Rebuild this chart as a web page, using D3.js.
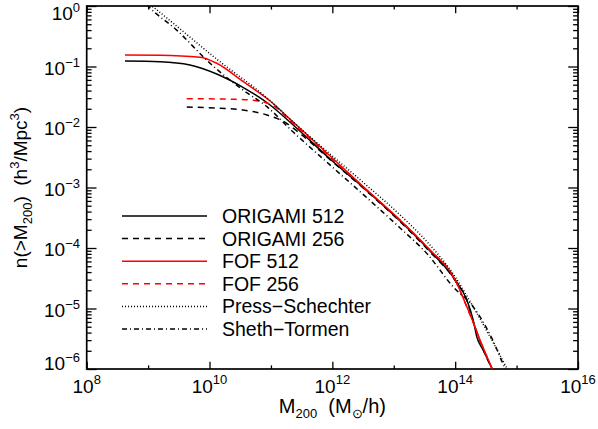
<!DOCTYPE html>
<html>
<head>
<meta charset="utf-8">
<script src="https://cdn.jsdelivr.net/npm/d3@7"></script>
<style>
  body { margin: 0; background: #fff; }
  svg text { font-family: "Liberation Sans", Arial, sans-serif; fill: #000; }
</style>
</head>
<body>
<div class="mass-function"></div>
<script>
// ---- values
var xTickExp = [8, 10, 12, 14, 16];
var xMinorExp = [9, 11, 13, 15];
var yTickExp = [0, -1, -2, -3, -4, -5, -6];
var legendLabels = ["ORIGAMI 512", "ORIGAMI 256", "FOF 512", "FOF 256", "Press\u2212Schechter", "Sheth\u2212Tormen"];

var origami512Mass = [4.2e8, 1.56e9, 4.8e9, 1.31e10, 3.5e10, 9.7e10, 2.21e11, 1e12, 3.41e12, 1.27e13, 3.62e13, 1e14, 1.55e14, 1.96e14, 2.25e14, 2.85e14, 3.95e14, 4.5e14];
var origami512N    = [0.123, 0.120, 0.106, 0.0752, 0.0453, 0.0231, 0.0112, 2.74e-3, 9.4e-4, 2.79e-4, 9.6e-5, 2.96e-5, 1.38e-5, 6.5e-6, 3.4e-6, 2.06e-6, 1.04e-6, 8e-7];

var origami256Mass = [4.26e9, 1.48e10, 3.5e10, 8.6e10, 1.81e11, 2.98e11, 1e12, 3.41e12, 1.27e13, 3.62e13, 1e14, 1.55e14, 1.9e14, 2.35e14, 2.95e14, 4.0e14, 4.6e14];
var origami256N    = [0.0214, 0.0204, 0.0191, 0.0158, 0.0115, 7.8e-3, 2.68e-3, 9.2e-4, 2.72e-4, 9.3e-5, 2.9e-5, 1.35e-5, 6.8e-6, 3.6e-6, 1.95e-6, 1.0e-6, 7.5e-7];

var fof512Mass = [4.2e8, 1.58e9, 7.0e9, 1.31e10, 3.55e10, 9.7e10, 2.21e11, 1e12, 3.41e12, 1.27e13, 3.62e13, 1e14, 1.55e14, 1.98e14, 2.54e14, 3.95e14, 4.5e14];
var fof512N    = [0.155, 0.154, 0.142, 0.113, 0.0561, 0.0269, 0.01256, 3.07e-3, 9.7e-4, 2.9e-4, 1.0e-4, 2.96e-5, 1.07e-5, 5.8e-6, 3.0e-6, 1.04e-6, 7.5e-7];

var fof256Mass = [4.26e9, 2.42e10, 4.57e10, 8.6e10, 1.1e11, 2.21e11, 1e12, 3.41e12, 1.27e13, 3.62e13, 1e14, 1.55e14, 2.0e14, 2.57e14, 4.0e14, 4.6e14];
var fof256N    = [0.0294, 0.0287, 0.0279, 0.0249, 0.0224, 0.0118, 2.95e-3, 9.6e-4, 2.85e-4, 9.9e-5, 2.93e-5, 1.05e-5, 5.6e-6, 2.9e-6, 1.0e-6, 7.5e-7];

var pressSchechterMass = [6.3e8, 1.15e9, 1.48e10, 8.6e10, 2.21e11, 1e12, 3.41e12, 1.27e13, 3.62e13, 1e14, 1.55e14, 2.25e14, 3.7e14, 6.9e14, 7.9e14];
var pressSchechterN    = [1.6, 1.0, 0.120, 0.0303, 0.01256, 3.32e-3, 1.14e-3, 3.51e-4, 1.21e-4, 3.32e-5, 1.61e-5, 8.4e-6, 3.4e-6, 1.04e-6, 8e-7];

var shethTormenMass = [7.1e8, 1.0e9, 2.92e9, 1.02e10, 3.5e10, 8.6e10, 2.21e11, 1e12, 3.41e12, 1.27e13, 3.62e13, 9.2e13, 1.96e14, 4.1e14, 6.5e14, 7.6e14];
var shethTormenN    = [1.5, 1.0, 0.40, 0.113, 0.0409, 0.0217, 8.6e-3, 2.18e-3, 7.2e-4, 2.14e-4, 7.7e-5, 2.3e-5, 1.07e-5, 3.0e-6, 1.04e-6, 8e-7];

// line styles, same order as the legend
var seriesColor = ["#000", "#000", "#ff0000", "#ff0000", "#000", "#000"];
var seriesDash  = [null, "6,5", null, "6,5", "1,2", "5,3,1,3"];

var seriesData = [
  d3.zip(origami512Mass, origami512N),
  d3.zip(origami256Mass, origami256N),
  d3.zip(fof512Mass, fof512N),
  d3.zip(fof256Mass, fof256N),
  d3.zip(pressSchechterMass, pressSchechterN),
  d3.zip(shethTormenMass, shethTormenN)
];

// ---- frame
var margin = {top: 6, right: 20, bottom: 60, left: 86.7},
    width = 598 - margin.left - margin.right,
    height = 429 - margin.top - margin.bottom;

var svg = d3.select(".mass-function")
  .append("svg")
    .attr("width", 598)
    .attr("height", 429)
  .append("g")
    .attr("transform", "translate(" + margin.left + "," + margin.top + ")");

var x = d3.scaleLog().domain([1e8, 1e16]).range([0, width]);
var y = d3.scaleLog().domain([1e-6, 1]).range([height, 0]);

var xMajor = xTickExp.map(function(e) { return Math.pow(10, e); });
var xMinor = xMinorExp.map(function(e) { return Math.pow(10, e); });
var yMajor = yTickExp.map(function(e) { return Math.pow(10, e); });
var yMinor = [];
yTickExp.slice(1).forEach(function(e) {
  for (var k = 2; k <= 9; k++) yMinor.push(k * Math.pow(10, e));
});

// ---- ticks on all four sides, pointing in
function ticks(axis, values, size, tx, ty) {
  var g = svg.append("g")
    .attr("transform", "translate(" + tx + "," + ty + ")")
    .call(axis.tickValues(values).tickSize(-size).tickSizeOuter(0).tickFormat(""));
  g.select(".domain").remove();
  g.selectAll("line").attr("stroke", "#000").attr("stroke-width", 1.3);
}
ticks(d3.axisBottom(x), xMajor, 7.3, 0, height);
ticks(d3.axisBottom(x), xMinor, 3.6, 0, height);
ticks(d3.axisTop(x), xMajor, 7.3, 0, 0);
ticks(d3.axisTop(x), xMinor, 3.6, 0, 0);
ticks(d3.axisLeft(y), yMajor, 9.8, 0, 0);
ticks(d3.axisLeft(y), yMinor, 4.9, 0, 0);
ticks(d3.axisRight(y), yMajor, 9.8, width, 0);
ticks(d3.axisRight(y), yMinor, 4.9, width, 0);

svg.append("rect")
  .attr("width", width)
  .attr("height", height)
  .attr("fill", "none")
  .attr("stroke", "#000")
  .attr("stroke-width", 1.7);

// ---- tick labels, 10 with exponent
svg.selectAll(".xlab")
  .data(xTickExp)
  .enter()
  .append("text")
    .attr("class", "xlab")
    .attr("x", function(d) { return x(Math.pow(10, d)); })
    .attr("y", height + 24)
    .attr("text-anchor", "middle")
    .style("font-size", "19px")
    .each(function(d) {
      var t = d3.select(this);
      t.append("tspan").text("10");
      t.append("tspan").attr("dy", -9).style("font-size", "13px").text(d);
    });

svg.selectAll(".ylab")
  .data(yTickExp)
  .enter()
  .append("text")
    .attr("class", "ylab")
    .attr("x", -6.7)
    .attr("y", function(d) { return Math.max(14, Math.min(height + 1, y(Math.pow(10, d)) + 8)); })
    .attr("text-anchor", "end")
    .style("font-size", "19px")
    .each(function(d) {
      var t = d3.select(this);
      t.append("tspan").text("10");
      t.append("tspan").attr("dy", -8).style("font-size", "13px")
        .text(d < 0 ? "\u2212" + (-d) : d);
    });

// ---- axis titles
var xt = svg.append("text")
  .attr("x", width / 2)
  .attr("y", height + 44)
  .attr("text-anchor", "middle")
  .style("font-size", "20px")
  .style("white-space", "pre");
xt.append("tspan").text("M");
xt.append("tspan").attr("dy", 5).style("font-size", "13px").text("200");
xt.append("tspan").attr("dy", -5).text("  (M");
xt.append("tspan").attr("dy", 5).style("font-size", "13px").text("\u2299");
xt.append("tspan").attr("dy", -5).text("/h)");

var yt = svg.append("text")
  .attr("transform", "translate(" + (27 - margin.left) + "," + (height / 2) + ")rotate(-90)")
  .attr("text-anchor", "middle")
  .style("font-size", "19px")
  .style("white-space", "pre");
yt.append("tspan").text("n(>M");
yt.append("tspan").attr("dy", 5).style("font-size", "13px").text("200");
yt.append("tspan").attr("dy", -5).text(")  (h");
yt.append("tspan").attr("dy", -8).style("font-size", "13px").text("3");
yt.append("tspan").attr("dy", 8).text("/Mpc");
yt.append("tspan").attr("dy", -8).style("font-size", "13px").text("3");
yt.append("tspan").attr("dy", 8).text(")");

// ---- curves
svg.append("clipPath").attr("id", "plot-clip")
  .append("rect").attr("width", width).attr("height", height);

var line = d3.line()
  .x(function(d) { return x(d[0]); })
  .y(function(d) { return y(d[1]); })
  .curve(d3.curveMonotoneX);

svg.append("g")
  .attr("clip-path", "url(#plot-clip)")
  .selectAll("path")
  .data(seriesData)
  .enter()
  .append("path")
    .attr("d", line)
    .attr("fill", "none")
    .attr("stroke", function(d, i) { return seriesColor[i]; })
    .attr("stroke-dasharray", function(d, i) { return seriesDash[i]; })
    .attr("stroke-width", 1.5);

// ---- legend
var legend = svg.selectAll(".legend")
  .data(legendLabels)
  .enter()
  .append("g")
    .attr("class", "legend")
    .attr("transform", function(d, i) { return "translate(0," + (210 + i * 22.6) + ")"; });

legend.append("line")
  .attr("x1", 122 - margin.left)
  .attr("x2", 207 - margin.left)
  .attr("stroke", function(d, i) { return seriesColor[i]; })
  .attr("stroke-dasharray", function(d, i) { return seriesDash[i]; })
  .attr("stroke-width", 1.5);

legend.append("text")
  .attr("x", 222 - margin.left)
  .attr("y", 7)
  .style("font-size", "19.5px")
  .text(function(d) { return d; });
</script>
</body>
</html>
